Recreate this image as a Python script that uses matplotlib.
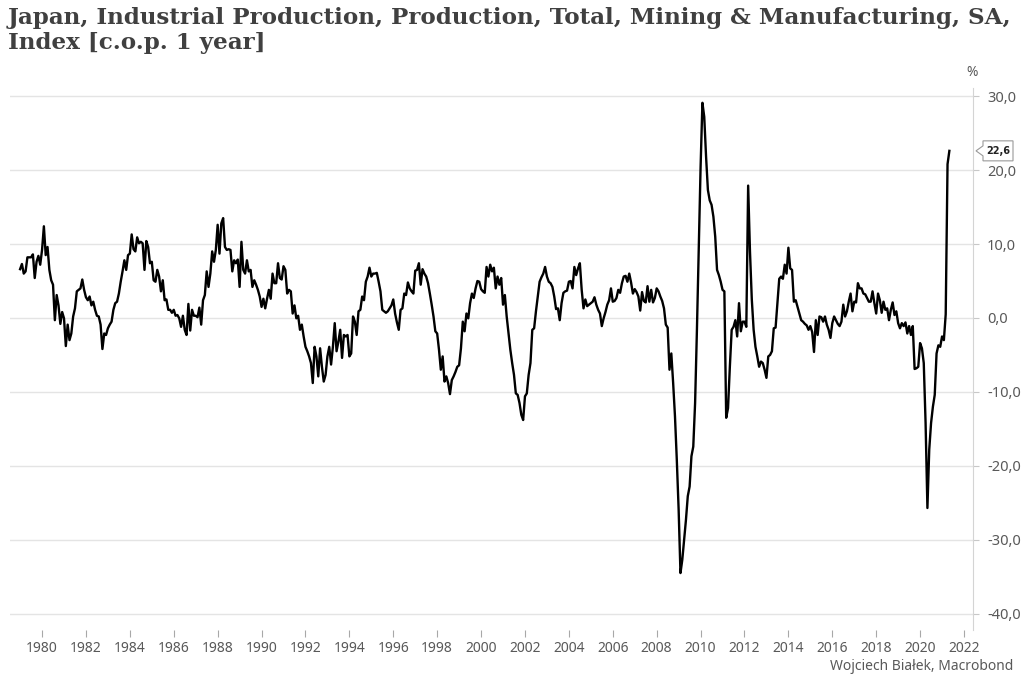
import numpy as np
import matplotlib
matplotlib.use("Agg")
import matplotlib.pyplot as plt
from matplotlib.patches import Polygon

# Monthly y/y % change, Jan 1979 .. May 2021
y1979 = [6.6, 7.3, 6.0, 6.3, 8.2, 8.2, 8.2, 8.6, 5.4, 7.6, 8.4, 7.2]
y1980 = [9.2, 12.4, 8.5, 9.6, 6.5, 5.1, 4.5, -0.3, 3.1, 1.7, -0.8, 0.8]
y1981 = [-0.05, -3.8, -0.9, -3.0, -2.1, 0.2, 1.3, 3.6, 3.8, 4.0, 5.2, 3.8]
y1982 = [2.8, 2.4, 2.9, 1.7, 2.2, 1.1, 0.3, 0.2, -0.9, -4.2, -2.1, -2.3]
y1983 = [-1.4, -0.9, -0.5, 1.1, 2.0, 2.2, 3.3, 4.9, 6.3, 7.8, 6.5, 8.5]
y1984 = [8.7, 11.3, 9.3, 9.0, 10.9, 10.1, 10.3, 10.1, 6.5, 10.4, 9.6, 7.4]
y1985 = [7.6, 5.1, 4.9, 6.5, 5.6, 3.6, 5.1, 2.4, 2.5, 1.1, 1.1, 0.7]
y1986 = [1.1, 0.3, 0.4, -0.05, -1.2, 0.3, -1.6, -2.3, 1.9, -1.7, 1.1, 0.3]
y1987 = [0.3, 0.1, 1.4, -0.9, 2.4, 3.1, 6.3, 4.2, 6.0, 9.0, 7.6, 9.2]
y1988 = [12.6, 8.7, 12.8, 13.5, 9.6, 9.2, 9.3, 9.2, 6.3, 7.8, 7.4, 7.9]
y1989 = [4.2, 10.3, 6.5, 6.0, 7.8, 6.3, 6.5, 4.2, 5.1, 4.5, 3.8, 2.9]
y1990 = [1.5, 2.6, 1.3, 2.6, 3.8, 2.6, 6.0, 4.7, 4.7, 7.4, 5.4, 5.2]
y1991 = [7.0, 6.5, 3.3, 3.8, 3.6, 0.6, 1.7, -0.05, 0.3, -1.6, -0.9, -2.5]
y1992 = [-3.9, -4.5, -5.2, -6.1, -8.8, -3.9, -5.2, -7.9, -4.1, -6.6, -8.6, -7.7]
y1993 = [-5.2, -3.9, -6.3, -3.9, -0.7, -4.5, -3.2, -1.6, -5.4, -2.3, -2.5, -2.3]
y1994 = [-5.2, -4.8, 0.2, -0.5, -2.3, 0.9, 1.1, 2.9, 2.4, 4.9, 5.6, 6.8]
y1995 = [5.6, 6.0, 6.0, 6.1, 4.9, 3.6, 1.1, 0.9, 0.7, 0.9, 1.3, 1.7]
y1996 = [2.5, 0.6, -0.6, -1.6, 1.1, 1.3, 3.3, 3.1, 4.8, 4.0, 3.6, 3.3]
y1997 = [6.4, 6.5, 7.4, 4.5, 6.6, 6.0, 5.6, 4.7, 3.3, 1.8, 0.2, -1.8]
y1998 = [-2.1, -4.3, -7.0, -5.2, -8.6, -7.9, -8.8, -10.3, -8.4, -7.9, -7.3, -6.6]
y1999 = [-6.4, -4.1, -0.5, -1.8, 0.6, -0.05, 2.0, 3.3, 2.7, 4.0, 5.0, 4.9]
y2000 = [3.9, 3.6, 3.4, 6.9, 5.6, 7.2, 6.3, 6.8, 4.0, 5.6, 4.5, 5.4]
y2001 = [1.8, 3.1, 0.2, -2.1, -4.3, -6.1, -7.7, -10.2, -10.4, -11.5, -13.1, -13.8]
y2002 = [-10.6, -10.2, -7.7, -6.1, -1.6, -1.4, 0.9, 2.9, 4.9, 5.5, 6.0, 6.9]
y2003 = [5.6, 4.9, 4.7, 4.2, 2.9, 1.2, 1.3, -0.3, 2.0, 3.4, 3.6, 3.7]
y2004 = [4.9, 5.0, 4.0, 6.9, 5.8, 6.7, 7.4, 3.8, 1.3, 2.5, 1.6, 1.8]
y2005 = [2.0, 2.2, 2.8, 1.8, 1.1, 0.6, -1.1, -0.05, 0.8, 1.8, 2.4, 4.0]
y2006 = [2.2, 2.3, 2.7, 3.8, 3.4, 4.7, 5.6, 5.7, 4.9, 6.0, 4.8, 3.3]
y2007 = [3.9, 3.5, 2.9, 1.0, 3.5, 2.3, 2.1, 4.3, 2.2, 3.8, 2.1, 2.7]
y2008 = [4.0, 3.6, 2.9, 2.3, 1.3, -0.9, -1.3, -7.0, -4.8, -8.8, -13.3, -19.2]
y2009 = [-25.9, -34.5, -32.7, -30.0, -27.3, -24.1, -22.8, -18.7, -17.4, -11.5, -1.6, 9.6]
y2010 = [20.4, 29.1, 27.2, 21.8, 17.3, 15.9, 15.3, 13.7, 11.0, 6.5, 5.8, 4.9]
y2011 = [3.8, 3.6, -13.5, -12.2, -6.6, -1.6, -1.2, -0.3, -2.5, 2.0, -1.8, -0.5]
y2012 = [-0.5, -1.2, 17.9, 9.0, 2.5, -1.6, -3.9, -5.2, -6.6, -5.9, -6.1, -7.0]
y2013 = [-8.1, -5.2, -5.0, -4.5, -1.4, -1.3, 2.0, 5.3, 5.6, 5.3, 7.2, 6.0]
y2014 = [9.5, 6.7, 6.5, 2.2, 2.4, 1.5, 0.6, -0.3, -0.5, -0.8, -1.0, -1.6]
y2015 = [-1.1, -1.9, -4.6, -0.3, -2.3, 0.2, 0.1, -0.5, 0.2, -0.9, -1.6, -2.7]
y2016 = [-0.7, 0.2, -0.3, -0.8, -1.1, -0.5, 1.8, 0.2, 0.9, 2.2, 3.3, 0.9]
y2017 = [2.2, 2.1, 4.7, 4.0, 4.0, 3.3, 3.2, 2.7, 2.2, 2.2, 3.6, 2.0]
y2018 = [0.6, 3.3, 2.4, 0.7, 2.2, 1.1, 1.3, -0.3, 1.1, 2.1, 0.4, 0.9]
y2019 = [-0.7, -1.4, -0.7, -1.1, -0.6, -2.1, -1.1, -2.3, -1.1, -6.9, -6.8, -6.6]
y2020 = [-3.4, -4.1, -6.1, -14.2, -25.7, -17.8, -14.2, -12.0, -10.4, -4.8, -3.7, -3.9]
y2021 = [-2.5, -3.0, 0.5, 20.8, 22.6]

start_year = 1979
year_ticks = list(range(1980, 2023, 2))
y_ticks = [-40, -30, -20, -10, 0, 10, 20, 30]
last_label = "22,6"
title = ("Japan, Industrial Production, Production, Total, Mining & Manufacturing, SA,\n"
         "Index [c.o.p. 1 year]")
credit = "Wojciech Białek, Macrobond"

values = np.array(y1979 + y1980 + y1981 + y1982 + y1983 + y1984 + y1985 + y1986 + y1987
                  + y1988 + y1989 + y1990 + y1991 + y1992 + y1993 + y1994 + y1995 + y1996
                  + y1997 + y1998 + y1999 + y2000 + y2001 + y2002 + y2003 + y2004 + y2005
                  + y2006 + y2007 + y2008 + y2009 + y2010 + y2011 + y2012 + y2013 + y2014
                  + y2015 + y2016 + y2017 + y2018 + y2019 + y2020 + y2021)
t = start_year + np.arange(len(values)) / 12.0

W, H = 1024, 690
fig = plt.figure(figsize=(W / 100, H / 100), dpi=100)
ax = fig.add_axes([10 / W, (H - 630) / H, (973 - 10) / W, (630 - 88) / H])

gray = "#595959"
ax.plot(t, values, color="black", lw=1.7, solid_joinstyle="round", zorder=3)
ax.set_xlim(1978.54, 2022.41)
ax.set_ylim(-42.2, 31.1)

ax.yaxis.tick_right()
ax.set_yticks(y_ticks)
ax.set_yticklabels([f"{v:.1f}".replace(".", ",") for v in y_ticks])
ax.set_xticks(year_ticks)
ax.set_xticklabels([str(y) for y in year_ticks])
ax.grid(axis="y", color="#e4e4e4", lw=1.0)
ax.set_axisbelow(True)
for s in ["top", "left", "bottom"]:
    ax.spines[s].set_visible(False)
ax.spines["right"].set_color("#d4d4d4")
ax.tick_params(axis="y", length=4, width=0.8, color="#c8c8c8", pad=6,
               labelsize=10.5, labelcolor=gray)
ax.tick_params(axis="x", length=5, width=0.8, color="#a8a8a8", pad=3,
               labelsize=10, labelcolor=gray)
for lab in ax.get_xticklabels() + ax.get_yticklabels():
    lab.set_family("Noto Sans")

fig.text(8 / W, 1 - 7 / H, title, ha="left", va="top", family="DejaVu Serif",
         weight="bold", fontsize=16.6, color="#404040", linespacing=1.15)
fig.text(972 / W, 1 - 73 / H, "%", ha="center", va="center", family="Noto Sans",
         fontsize=10, color=gray)
fig.text(1013 / W, 1 - 667 / H, credit, ha="right", va="center", family="Noto Sans",
         fontsize=10, color=gray)

# last value tag
fig.canvas.draw()
px, py = ax.transData.transform((ax.get_xlim()[1], values[-1]))
x0 = px + 10
poly = Polygon([(x0, py - 10), (x0 + 30, py - 10), (x0 + 30, py + 10), (x0, py + 10),
                (x0, py + 5), (px + 3, py), (x0, py - 5)], closed=True,
               facecolor="white", edgecolor="#9a9a9a", lw=0.8, transform=None,
               figure=fig)
fig.patches.append(poly)
fig.text((x0 + 15) / W, py / H, last_label, ha="center", va="center",
         fontsize=7, weight="bold", family="DejaVu Sans", color="#222222")

fig.savefig("out.png", dpi=100)
